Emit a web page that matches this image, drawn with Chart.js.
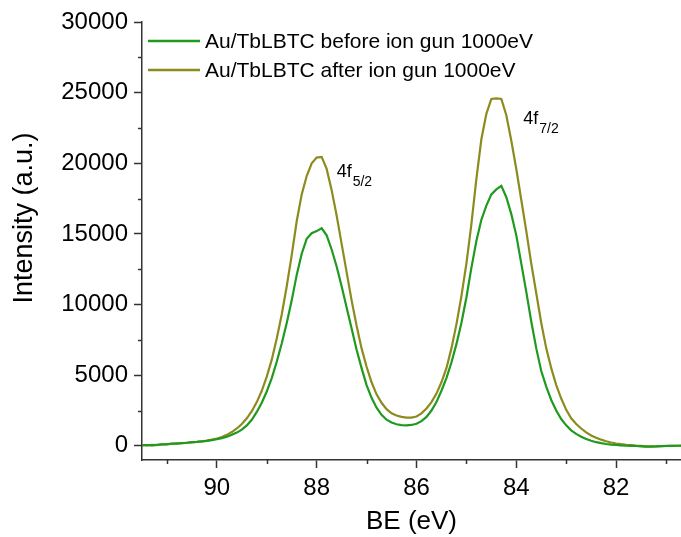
<!DOCTYPE html>
<html>
<head>
<meta charset="utf-8">
<script src="https://cdn.jsdelivr.net/npm/chart.js@4.4.1/dist/chart.umd.min.js"></script>
<style>
    html, body { margin: 0; padding: 0; background: #fff; }
    canvas { display: block; }
</style>
</head>
<body>
<canvas id="xpsChart" width="681" height="537"></canvas>
<script>
// Au 4f spectra, binding energy (eV), 0.1 eV steps
const bindingEnergy = [
    91.5, 91.4, 91.3, 91.2, 91.1, 91.0, 90.9, 90.8, 90.7, 90.6,
    90.5, 90.4, 90.3, 90.2, 90.1, 90.0, 89.9, 89.8, 89.7, 89.6,
    89.5, 89.4, 89.3, 89.2, 89.1, 89.0, 88.9, 88.8, 88.7, 88.6,
    88.5, 88.4, 88.3, 88.2, 88.1, 88.0, 87.9, 87.8, 87.7, 87.6,
    87.5, 87.4, 87.3, 87.2, 87.1, 87.0, 86.9, 86.8, 86.7, 86.6,
    86.5, 86.4, 86.3, 86.2, 86.1, 86.0, 85.9, 85.8, 85.7, 85.6,
    85.5, 85.4, 85.3, 85.2, 85.1, 85.0, 84.9, 84.8, 84.7, 84.6,
    84.5, 84.4, 84.3, 84.2, 84.1, 84.0, 83.9, 83.8, 83.7, 83.6,
    83.5, 83.4, 83.3, 83.2, 83.1, 83.0, 82.9, 82.8, 82.7, 82.6,
    82.5, 82.4, 82.3, 82.2, 82.1, 82.0, 81.9, 81.8, 81.7, 81.6,
    81.5, 81.4, 81.3, 81.2, 81.1, 81.0, 80.9, 80.8, 80.7
];

// Intensity before sputtering
const beforeIonGun = [
    40, 60, 40, 80, 110, 110, 160, 160, 200, 220,
    260, 280, 320, 360, 410, 470, 550, 650, 780, 940,
    1150, 1450, 1850, 2400, 3050, 3850, 4800, 5950, 7250, 8700,
    10300, 12100, 13600, 14650, 15050, 15200, 15400, 14900, 13900, 12700,
    11300, 9800, 8300, 6800, 5500, 4300, 3400, 2700, 2200, 1850,
    1650, 1530, 1470, 1450, 1480, 1560, 1750, 2050, 2500, 3100,
    3900, 4800, 5900, 7200, 8700, 10500, 12600, 14500, 16000, 17000,
    17800, 18150, 18400, 17600, 16400, 14900, 12900, 10900, 8800, 6900,
    5300, 4200, 3250, 2500, 1900, 1450, 1100, 850, 650, 480,
    360, 260, 190, 130, 90, 60, 30, 10, 0, -10,
    -30, -50, -50, -40, -20, -10, 0, 10, 10
];

// Intensity after sputtering
const afterIonGun = [
    60, 40, 70, 60, 110, 120, 150, 170, 190, 220,
    250, 280, 320, 370, 440, 520, 630, 780, 980, 1230,
    1550, 1950, 2450, 3100, 3900, 4900, 6100, 7600, 9300, 11300,
    13500, 15900, 17800, 19100, 20000, 20400, 20450, 19600, 18100, 16300,
    14300, 12300, 10300, 8500, 6900, 5600, 4500, 3650, 3050, 2600,
    2300, 2150, 2050, 2000, 2000, 2080, 2300, 2650, 3100, 3700,
    4500, 5500, 6900, 8600, 10600, 12900, 15700, 18900, 21700, 23500,
    24550, 24600, 24550, 23400, 21600, 19600, 17400, 15200, 12900, 10800,
    8700, 6900, 5500, 4300, 3350, 2550, 1950, 1550, 1230, 950,
    740, 580, 440, 330, 240, 170, 120, 80, 50, 20,
    0, -30, -40, -30, -20, 0, 10, 10, 20
];

const seriesLabels = ['Au/TbLBTC before ion gun 1000eV', 'Au/TbLBTC after ion gun 1000eV'];
const seriesColors = ['#1f9a1f', '#8c8b1e'];

// Axis ticks
const xMajorTicks = [90, 88, 86, 84, 82];
const xMinorTicks = [91, 89, 87, 85, 83, 81];
const yMajorTicks = [0, 5000, 10000, 15000, 20000, 25000, 30000];
const yMinorTicks = [2500, 7500, 12500, 17500, 22500, 27500];

// Peak labels: [main, subscript, BE, intensity]
const peakLabels = [
    ['4f', '5/2', 87.6, 19000],
    ['4f', '7/2', 83.86, 22750]
];

const FONT = "'Liberation Sans', Arial, sans-serif";
const AXIS_COLOR = '#333333';

function toPoints(ys) {
    return bindingEnergy.map((x, i) => ({ x: x, y: ys[i] }));
}

// Minor ticks, y title, in-plot legend and peak labels
const extrasPlugin = {
    id: 'extras',
    afterDraw(chart) {
        const ctx = chart.ctx;
        const xs = chart.scales.x;
        const ys = chart.scales.y;
        const area = chart.chartArea;

        ctx.save();
        ctx.strokeStyle = AXIS_COLOR;
        ctx.lineWidth = 1.5;
        xMinorTicks.forEach(v => {
            const px = Math.round(xs.getPixelForValue(v)) + 0.5;
            ctx.beginPath();
            ctx.moveTo(px, area.bottom);
            ctx.lineTo(px, area.bottom + 4);
            ctx.stroke();
        });
        yMinorTicks.forEach(v => {
            const py = Math.round(ys.getPixelForValue(v)) + 0.5;
            ctx.beginPath();
            ctx.moveTo(area.left, py);
            ctx.lineTo(area.left - 4, py);
            ctx.stroke();
        });

        // y axis title
        ctx.save();
        ctx.translate(25, 218);
        ctx.rotate(-Math.PI / 2);
        ctx.font = '27px ' + FONT;
        ctx.fillStyle = '#000';
        ctx.textAlign = 'center';
        ctx.textBaseline = 'middle';
        ctx.fillText('Intensity (a.u.)', 0, 0);
        ctx.restore();

        // legend
        ctx.font = '21px ' + FONT;
        ctx.textBaseline = 'middle';
        ctx.textAlign = 'left';
        seriesLabels.forEach((label, i) => {
            const ly = area.top + 19 + i * 29;
            ctx.strokeStyle = seriesColors[i];
            ctx.lineWidth = 2.5;
            ctx.beginPath();
            ctx.moveTo(area.left + 6, ly);
            ctx.lineTo(area.left + 58, ly);
            ctx.stroke();
            ctx.fillStyle = '#000';
            ctx.fillText(label, area.left + 63, ly + 1);
        });

        // peak labels with subscripts
        ctx.textBaseline = 'alphabetic';
        peakLabels.forEach(p => {
            const px = xs.getPixelForValue(p[2]);
            const py = ys.getPixelForValue(p[3]);
            ctx.font = '18px ' + FONT;
            ctx.fillStyle = '#000';
            ctx.fillText(p[0], px, py);
            const w = ctx.measureText(p[0]).width;
            ctx.font = '14px ' + FONT;
            ctx.fillText(p[1], px + w + 1, py + 9);
        });
        ctx.restore();
    }
};

function initChart() {
    const ctx = document.getElementById('xpsChart').getContext('2d');
    new Chart(ctx, {
        type: 'line',
        data: {
            datasets: [
                {
                    label: seriesLabels[0],
                    data: toPoints(beforeIonGun),
                    borderColor: seriesColors[0],
                    borderWidth: 2.2,
                    pointRadius: 0,
                    tension: 0,
                    fill: false
                },
                {
                    label: seriesLabels[1],
                    data: toPoints(afterIonGun),
                    borderColor: seriesColors[1],
                    borderWidth: 2.2,
                    pointRadius: 0,
                    tension: 0,
                    fill: false
                }
            ]
        },
        options: {
            responsive: false,
            animation: false,
            devicePixelRatio: 1,
            layout: { padding: { top: 22, right: 0, left: 0, bottom: 0 } },
            plugins: {
                legend: { display: false },
                tooltip: { enabled: false }
            },
            scales: {
                x: {
                    type: 'linear',
                    reverse: true,
                    min: 80.7,
                    max: 91.5,
                    afterBuildTicks: scale => {
                        scale.ticks = xMajorTicks.map(v => ({ value: v }));
                    },
                    afterFit: scale => { scale.height = 77; },
                    ticks: {
                        color: '#000',
                        font: { family: FONT, size: 24 },
                        padding: 6,
                        maxRotation: 0,
                        callback: v => String(v)
                    },
                    grid: {
                        drawOnChartArea: false,
                        drawTicks: true,
                        tickLength: 8,
                        tickWidth: 1.5,
                        tickColor: AXIS_COLOR
                    },
                    border: { display: true, color: AXIS_COLOR, width: 1.5 },
                    title: {
                        display: true,
                        text: 'BE (eV)',
                        color: '#000',
                        font: { family: FONT, size: 26, lineHeight: 1.0 },
                        padding: { top: 0, bottom: 2 }
                    }
                },
                y: {
                    min: -1000,
                    max: 30000,
                    afterBuildTicks: scale => {
                        scale.ticks = yMajorTicks.map(v => ({ value: v }));
                    },
                    afterFit: scale => { scale.width = 142; },
                    ticks: {
                        color: '#000',
                        font: { family: FONT, size: 24 },
                        padding: 6,
                        callback: v => String(v)
                    },
                    grid: {
                        drawOnChartArea: false,
                        drawTicks: true,
                        tickLength: 8,
                        tickWidth: 1.5,
                        tickColor: AXIS_COLOR
                    },
                    border: { display: true, color: AXIS_COLOR, width: 1.5 }
                }
            }
        },
        plugins: [extrasPlugin]
    });
}

window.onload = initChart;
</script>
</body>
</html>
